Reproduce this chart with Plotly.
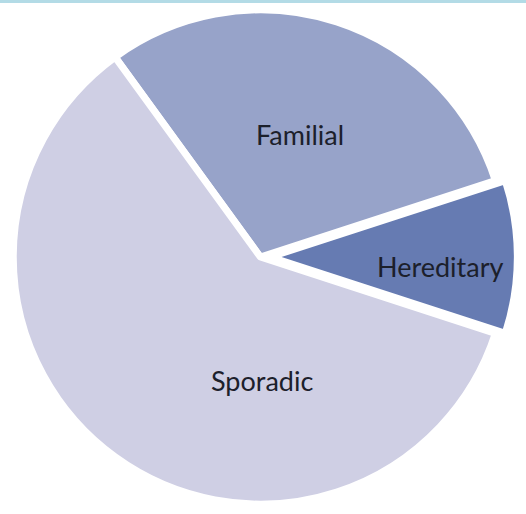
import plotly.graph_objects as go

labels = ["Familial", "Hereditary", "Sporadic"]
values = [30, 10, 60]
colors = ["#97a3c9", "#667bb2", "#cfcfe4"]
pulls = [0, 0.04, 0]

# label anchor positions (paper coordinates)
label_x = [0.570, 0.837, 0.498]
label_y = [0.739, 0.481, 0.259]

fig = go.Figure(go.Pie(
    labels=labels,
    values=values,
    sort=False,
    direction="clockwise",
    rotation=-36,
    pull=pulls,
    marker=dict(colors=colors, line=dict(color="white", width=7)),
    textinfo="none",
    hoverinfo="label+percent",
    showlegend=False,
    domain=dict(x=[0, 0.99], y=[0, 1]),
))

annotations = [
    dict(text=lab, x=lx, y=ly, xref="paper", yref="paper", showarrow=False,
         xanchor="center", yanchor="middle",
         font=dict(family="Lato", size=27, color="#1c202b"))
    for lab, lx, ly in zip(labels, label_x, label_y)
]

fig.update_layout(
    width=526, height=514,
    margin=dict(l=0, r=0, t=0, b=0),
    paper_bgcolor="white",
    plot_bgcolor="white",
    annotations=annotations,
    shapes=[dict(type="line", xref="paper", yref="paper", x0=0, x1=1, y0=0.997, y1=0.997,
                 line=dict(color="#b3dbe6", width=3))],
)

fig.write_html("out.html", config={"displayModeBar": False},
               post_script="document.body.style.margin='0';")
